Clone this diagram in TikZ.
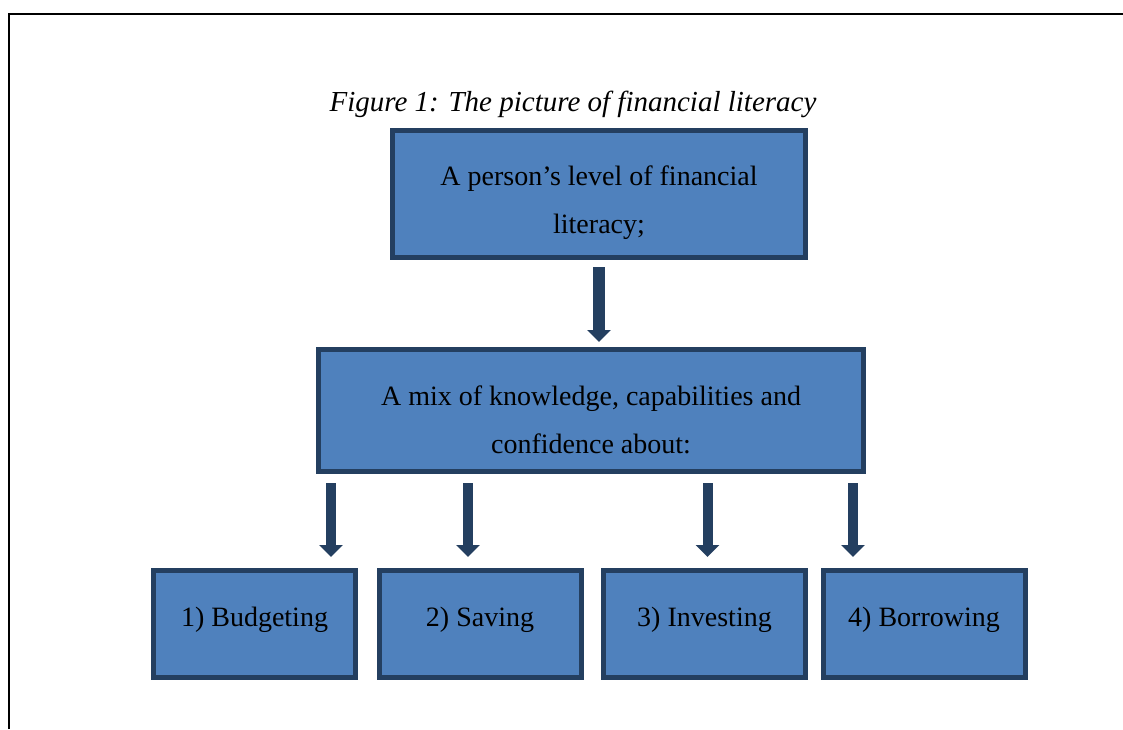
\documentclass[tikz,border=0pt]{standalone}
\usepackage{fontspec}
\setmainfont{Liberation Serif}
\usetikzlibrary{arrows.meta}
\definecolor{boxfill}{HTML}{4F81BD}
\definecolor{boxline}{HTML}{243F60}

\begin{document}
\begin{tikzpicture}[x=0.5pt,y=-0.5pt,
	box/.style={draw=boxline,fill=boxfill,line width=2.5pt,inner sep=0pt},
	txt/.style={inner sep=0pt,align=center,font=\fontsize{14}{24}\selectfont},
	arr/.style={draw=boxline,line width=5pt,-{Triangle[width=11.5pt,length=6pt]}}]
	\useasboundingbox (0,0) rectangle (1123,729);
	\draw[line width=1pt] (9,729) -- (9,14) -- (1123,14);

	\node[txt,anchor=base,font=\fontsize{14.5}{24}\selectfont\itshape] (title) at (573,111) {Figure 1: The picture of financial literacy};

	% top box
	\node[box,minimum width=206.5pt,minimum height=63.5pt] (top) at (599,194) {};
	\node[txt] (toptxt) at (599,203) {A person’s level of financial\\literacy;};

	% middle box
	\node[box,minimum width=272.5pt,minimum height=61pt] (mid) at (591,410.5) {};
	\node[txt] (midtxt) at (591,420) {A mix of knowledge, capabilities and\\confidence about:};

	\draw[arr,line width=6pt,shorten <=3.5pt,shorten >=2.5pt] (top) -- (mid.north -| top);

	% bottom row
	\foreach \x/\n/\t in {254.5/b1/1) Budgeting,480/b2/2) Saving,704.5/b3/3) Investing,924/b4/4) Borrowing} {
		\node[box,minimum width=101pt,minimum height=53.5pt] (\n) at (\x,624) {};
		\node[txt,anchor=base] (\n t) at (\x,626) {\t};
	}
	\foreach \i/\x in {1/331,2/468,3/707.5,4/853} {
		\coordinate (a\i) at (\x,0);
		\draw[arr,shorten <=4.5pt,shorten >=5.5pt] (mid.south -| a\i) -- (b\i.north -| a\i);
	}
\end{tikzpicture}
\end{document}
